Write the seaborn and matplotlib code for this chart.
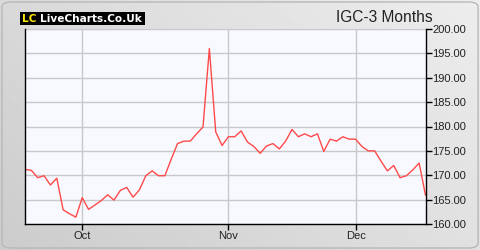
import numpy as np
import pandas as pd
import matplotlib
matplotlib.use("Agg")
import matplotlib.pyplot as plt
import seaborn as sns
from matplotlib.patches import FancyBboxPatch

prices = [171.2, 171.0, 169.5, 169.9, 168.0, 169.4, 162.9, 162.1, 161.4, 165.4,
          163.0, 163.9, 164.8, 166.0, 164.9, 166.9, 167.5, 165.5, 167.0, 169.9,
          170.9, 169.9, 169.9, 173.3, 176.5, 177.0, 177.0, 178.5, 179.9, 196.0,
          178.9, 176.1, 177.9, 177.9, 179.1, 176.8, 175.9, 174.5, 176.0, 176.5,
          175.4, 177.0, 179.4, 177.9, 178.5, 177.9, 178.5, 174.9, 177.4, 177.0,
          177.9, 177.4, 177.4, 175.9, 175.0, 175.0, 172.9, 170.9, 172.0, 169.5,
          169.9, 171.1, 172.5, 165.9]
month_labels = ["Oct", "Nov", "Dec"]
month_pos = [9, 32, 52]
y_ticks = [160, 165, 170, 175, 180, 185, 190, 195, 200]
title = "IGC-3 Months"

df = pd.DataFrame({"day": np.arange(len(prices)), "price": prices})

sns.set_theme(style="white")
plt.rcParams["font.family"] = ["Liberation Sans", "DejaVu Sans"]

fig = plt.figure(figsize=(4.8, 2.5), dpi=100)
fig.patch.set_facecolor("white")

# background gradient panel
bg = fig.add_axes([0, 0, 1, 1], zorder=-10)
xx, yy = np.meshgrid(np.linspace(0, 1, 256), np.linspace(0, 1, 128))
g = 0.80 + 0.08 * xx + 0.05 * yy
bg.imshow(g, cmap="gray", vmin=0, vmax=1, aspect="auto", extent=[0, 1, 0, 1], origin="lower")
bg.set_xlim(0, 1); bg.set_ylim(0, 1)
bg.axis("off")
border = FancyBboxPatch((0.004, 0.008), 0.992, 0.984,
                        boxstyle="round,pad=0,rounding_size=0.02",
                        transform=bg.transAxes, fill=False, ec="#B8B8B8", lw=1)
bg.add_patch(border)

ax = fig.add_axes([25 / 480, 26 / 250, 400.5 / 480, 195 / 250])
ax.set_facecolor("#F8F9FF")
sns.lineplot(data=df, x="day", y="price", ax=ax, color="#FF4A4A", lw=1.0)

ax.set_xlim(0, len(prices) - 1)
ax.set_ylim(160, 200)
ax.set_xticks(month_pos)
ax.set_xticklabels(month_labels)
ax.set_yticks(y_ticks)
ax.set_yticklabels([f"{v:.2f}" for v in y_ticks])
ax.yaxis.tick_right()
ax.grid(True, color="#C8C8C8", lw=1)
ax.set_axisbelow(True)
ax.set_xlabel("")
ax.set_ylabel("")
for s in ["left", "bottom", "right"]:
    ax.spines[s].set_visible(True)
    ax.spines[s].set_color("black")
    ax.spines[s].set_linewidth(1)
ax.spines["top"].set_visible(False)
ax.tick_params(axis="y", which="both", right=True, length=4, width=1, color="black",
               labelsize=8, pad=1, labelcolor="#222222")
ax.tick_params(axis="x", bottom=True, length=4, width=1, color="black",
               labelsize=8, pad=1, labelcolor="#222222")

fig.text(433 / 480, 1 - 17 / 250, title, ha="right", va="center", fontsize=11.2, color="#222222")

# logo
fig.patches.append(FancyBboxPatch((20 / 480, 1 - 25 / 250), 125 / 480, 13 / 250,
                                  boxstyle="square,pad=0", transform=fig.transFigure,
                                  fc="black", ec="none", figure=fig))
fig.text(22 / 480, 1 - 18.5 / 250, "LC", ha="left", va="center", fontsize=7.6,
         color="#FFE800", fontweight="bold", family="DejaVu Sans")
fig.text(40 / 480, 1 - 18.5 / 250, "LiveCharts.Co.Uk", ha="left", va="center", fontsize=7.6,
         color="white", fontweight="bold", family="DejaVu Sans")

fig.savefig("out.png", dpi=100)
